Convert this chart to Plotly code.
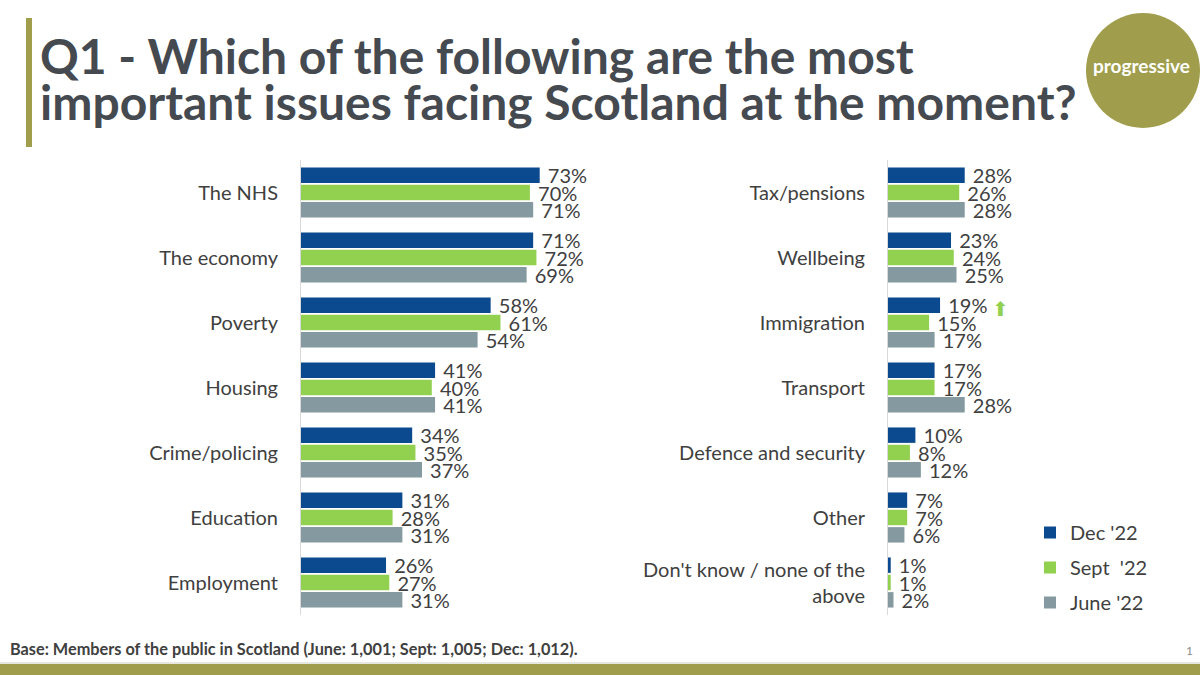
import plotly.graph_objects as go

# ---------------- data ----------------
left_cats = ["The NHS", "The economy", "Poverty", "Housing", "Crime/policing", "Education", "Employment"]
left_dec = [73, 71, 58, 41, 34, 31, 26]
left_sept = [70, 72, 61, 40, 35, 28, 27]
left_june = [71, 69, 54, 41, 37, 31, 31]

right_cats = ["Tax/pensions", "Wellbeing", "Immigration", "Transport", "Defence and security", "Other",
              "Don't know / none of the<br>above"]
right_dec = [28, 23, 19, 17, 10, 7, 1]
right_sept = [26, 24, 15, 17, 8, 7, 1]
right_june = [28, 25, 17, 28, 12, 6, 2]

series_names = ["Dec '22", "Sept\u00a0 '22", "June '22"]
series_colors = ["#0B4A8E", "#92D050", "#849AA0"]

title_line1 = "Q1 - Which of the following are the most"
title_line2 = "important issues facing Scotland at the moment?"
footer_text = "Base: Members of the public in Scotland (June: 1,001; Sept: 1,005; Dec: 1,012)."

W, H = 1200, 675
FONT = "Lato"
TXT = "#404040"
OLIVE = "#A09E4C"


def px_x(p):
    return p / W


def px_y(p):
    return 1 - p / H


fig = go.Figure()

left_series = [left_dec, left_sept, left_june]
right_series = [right_dec, right_sept, right_june]

for i, (name, color) in enumerate(zip(series_names, series_colors)):
    fig.add_trace(go.Bar(
        y=left_cats, x=left_series[i], orientation="h", name=name,
        marker=dict(color=color, line=dict(width=0)),
        texttemplate="\u00a0%{x}%", textposition="outside",
        textfont=dict(family=FONT, size=20, color=TXT),
        constraintext="none", cliponaxis=False,
        legendgroup=name, showlegend=True,
        xaxis="x", yaxis="y", hoverinfo="skip",
    ))
for i, (name, color) in enumerate(zip(series_names, series_colors)):
    fig.add_trace(go.Bar(
        y=right_cats, x=right_series[i], orientation="h", name=name,
        marker=dict(color=color, line=dict(width=0)),
        texttemplate="\u00a0%{x}%", textposition="outside",
        textfont=dict(family=FONT, size=20, color=TXT),
        constraintext="none", cliponaxis=False,
        legendgroup=name, showlegend=False,
        xaxis="x2", yaxis="y2", hoverinfo="skip",
    ))

ydom = [px_y(615), px_y(160)]

fig.update_layout(
    width=W, height=H,
    margin=dict(l=0, r=0, t=0, b=0),
    paper_bgcolor="white", plot_bgcolor="white",
    barmode="group", bargap=0.2, bargroupgap=0.11,
    font=dict(family=FONT, color=TXT),
    xaxis=dict(domain=[px_x(301), px_x(628)], range=[0, 100], visible=False, fixedrange=True),
    yaxis=dict(domain=ydom, type="category", categoryorder="array", categoryarray=left_cats,
               autorange="reversed", showline=True, linecolor="#D9D9D9", linewidth=1,
               showgrid=False, zeroline=False, ticks="", ticklabelstandoff=18,
               tickfont=dict(family=FONT, size=20, color=TXT), anchor="x"),
    xaxis2=dict(domain=[px_x(888), px_x(1162)], range=[0, 100], visible=False, fixedrange=True,
                anchor="y2"),
    yaxis2=dict(domain=ydom, type="category", categoryorder="array", categoryarray=right_cats,
                autorange="reversed", showline=True, linecolor="#D9D9D9", linewidth=1,
                showgrid=False, zeroline=False, ticks="", ticklabelstandoff=18,
                tickfont=dict(family=FONT, size=20, color=TXT), anchor="x2"),
    legend=dict(x=px_x(1030), y=px_y(513), xanchor="left", yanchor="top",
                font=dict(family=FONT, size=20, color=TXT), traceorder="grouped",
                tracegroupgap=6, bgcolor="rgba(0,0,0,0)", itemwidth=30),
    showlegend=True,
)

shapes = [
    # left accent bar
    dict(type="rect", xref="paper", yref="paper", x0=px_x(26), x1=px_x(32), y0=px_y(147), y1=px_y(18),
         fillcolor=OLIVE, line=dict(width=0), layer="below"),
    # logo circle
    dict(type="circle", xref="paper", yref="paper", x0=px_x(1086), x1=px_x(1200), y0=px_y(128), y1=px_y(13),
         fillcolor=OLIVE, line=dict(width=0), layer="below"),
    # bottom band
    dict(type="rect", xref="paper", yref="paper", x0=0, x1=1, y0=0, y1=px_y(664),
         fillcolor=OLIVE, line=dict(width=0), layer="below"),
    dict(type="line", xref="paper", yref="paper", x0=0, x1=1, y0=px_y(663), y1=px_y(663),
         line=dict(color="#D0D0C0", width=1), layer="below"),
]

annotations = [
    dict(text=title_line1, xref="paper", yref="paper", x=px_x(38), y=px_y(56), xanchor="left",
         yanchor="middle", showarrow=False, font=dict(family=FONT, size=48, color="#454A51", weight="bold")),
    dict(text=title_line2, xref="paper", yref="paper", x=px_x(38), y=px_y(102), xanchor="left",
         yanchor="middle", showarrow=False, font=dict(family=FONT, size=48, color="#454A51", weight="bold")),
    dict(text="progressive", xref="paper", yref="paper", x=px_x(1141), y=px_y(66), xanchor="center",
         yanchor="middle", showarrow=False, font=dict(family=FONT, size=19, color="white", weight="bold")),
    dict(text=footer_text, xref="paper", yref="paper", x=px_x(8), y=px_y(648), xanchor="left",
         yanchor="middle", showarrow=False, font=dict(family=FONT, size=16.3, color=TXT, weight="bold")),
    dict(text="1", xref="paper", yref="paper", x=px_x(1189), y=px_y(650), xanchor="center",
         yanchor="middle", showarrow=False, font=dict(family=FONT, size=12, color="#8C8C8C")),
    dict(text="\u2B06", xref="x2", yref="y2", x=right_dec[2], y=right_cats[2], xshift=60, yshift=14,
         xanchor="center", yanchor="middle", showarrow=False,
         font=dict(family="DejaVu Sans", size=20, color="#92D050")),
]

fig.update_layout(shapes=shapes, annotations=annotations)

fig.write_html("out.html")
